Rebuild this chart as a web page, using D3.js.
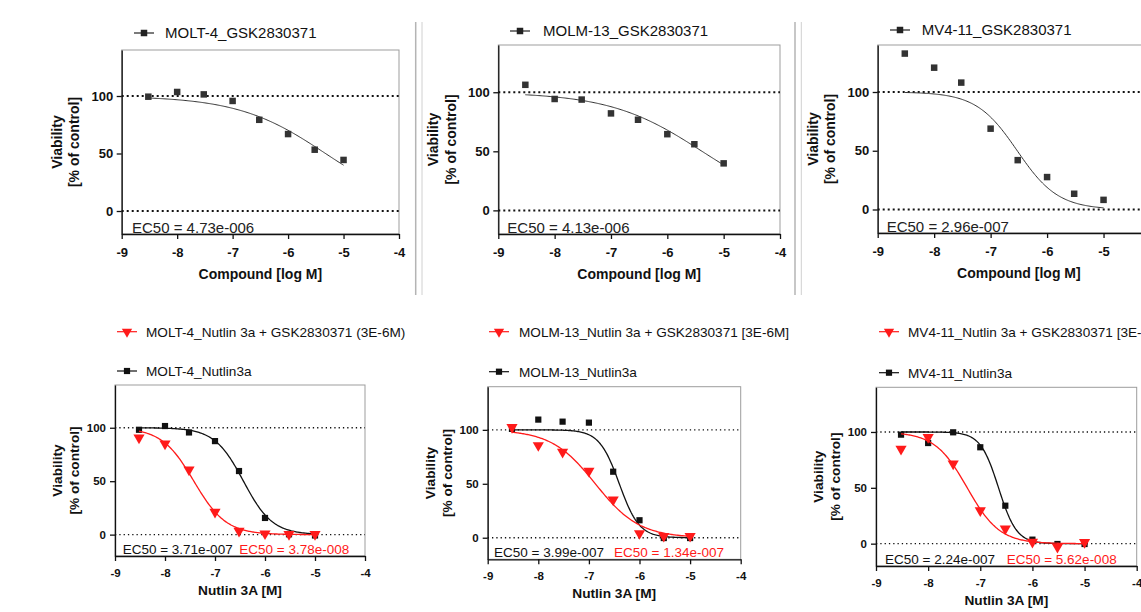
<!DOCTYPE html>
<html lang="en">
<head>
  <meta charset="UTF-8" />
  <title>Viability dose-response panels</title>
  <script src="https://d3js.org/d3.v7.min.js"></script>
  <style>
    body { margin: 0; padding: 0; background: #fff; }
    svg text { font-family: Arial, "Liberation Sans", sans-serif; fill: #111; }
  </style>
</head>
<body>
  <div id="chart"></div>

  <script>
    // ---- data ----
    const logConc = [-8.52, -8, -7.52, -7, -6.52, -6, -5.52, -5];
    const xTicks = [-9, -8, -7, -6, -5, -4];
    const yTicks = [0, 50, 100];
    const refLevels = [0, 100];

    // GSK2830371 alone (top row)
    const molt4Gsk  = [99.4, 103.5, 101.4, 95.7, 79.3, 66.9, 53.3, 44.4];
    const molm13Gsk = [106.3, 94.3, 93.8, 82.1, 76.7, 64.5, 56.0, 39.8];
    const mv411Gsk  = [132.7, 120.7, 108.0, 68.8, 42.0, 27.6, 13.4, 8.2];

    // Nutlin3a alone (black) and Nutlin 3a + GSK2830371 (red), bottom row
    const molt4Nut    = [98.1, 101.6, 95.6, 87.5, 59.5, 15.6, 0.3, -0.8];
    const molt4Combo  = [90.7, 85.0, 60.7, 21.2, 3.4, 0.9, 0.3, 0.3];
    const molm13Nut   = [100.9, 109.5, 107.6, 106.7, 61.2, 16.2, -0.3, -0.3];
    const molm13Combo = [102.4, 85.6, 79.5, 61.8, 35.2, 4.0, 1.5, 1.5];
    const mv411Nut    = [97.6, 90.1, 99.7, 86.3, 34.0, 3.6, -0.3, -0.3];
    const mv411Combo  = [84.8, 95.2, 71.6, 29.6, 13.4, 1.5, -3.0, 1.2];

    // fitted EC50 (label values) and hill slopes of the fitted curves
    const ec50Gsk   = [4.73e-6, 4.13e-6, 2.96e-7];
    const hillGsk   = [0.55, 0.53, 1.2];
    const ec50Nut   = [3.71e-7, 3.99e-7, 2.24e-7];
    const hillNut   = [1.5, 2.2, 2.5];
    const ec50Combo = [3.78e-8, 1.34e-7, 5.62e-8];
    const hillCombo = [1.35, 1.0, 1.4];
    const ec50Text  = ["EC50 = 4.73e-006", "EC50 = 4.13e-006", "EC50 = 2.96e-007",
                       "EC50 = 3.71e-007", "EC50 = 3.99e-007", "EC50 = 2.24e-007"];
    const ec50ComboText = ["EC50 = 3.78e-008", "EC50 = 1.34e-007", "EC50 = 5.62e-008"];

    const gskNames   = ["MOLT-4_GSK2830371", "MOLM-13_GSK2830371", "MV4-11_GSK2830371"];
    const nutNames   = ["MOLT-4_Nutlin3a", "MOLM-13_Nutlin3a", "MV4-11_Nutlin3a"];
    const comboNames = ["MOLT-4_Nutlin 3a + GSK2830371 (3E-6M)",
                        "MOLM-13_Nutlin 3a + GSK2830371 [3E-6M]",
                        "MV4-11_Nutlin 3a + GSK2830371 [3E-6M]"];

    const RED = "#ff1a1a";

    const svg = d3.select("#chart").append("svg")
      .attr("width", 1141).attr("height", 612);

    // row styles
    const topRow = { tick: 13, title: 14, legend: 15, ec50: 15, tickPad: 9, yPad: 3.5,
                     titleGap: 45, vOff1: 65, vOff2: 47.5, dot: "2 3", dotW: 2,
                     sq: 6.5, xTitle: "Compound [log M]" };
    const botRow = { tick: 11.5, title: 13.7, legend: 13.6, ec50: 13.5, tickPad: 8, yPad: 4,
                     titleGap: 39, vOff1: 57.8, vOff2: 41, dot: "1.3 3", dotW: 1.3,
                     sq: 6.2, xTitle: "Nutlin 3A [M]" };

    const panels = [
      { row: topRow, left: 121.7, right: 399, top: 50, bottom: 234, i: 0,
        leg: [{ x: 144, y: 33, tx: 165 }], ecX: [132], ecY: 233 },
      { row: topRow, left: 498.3, right: 780, top: 45, bottom: 234, i: 1,
        leg: [{ x: 520, y: 31, tx: 543 }], ecX: [507.3], ecY: 233 },
      { row: topRow, left: 877.7, right: 1160, top: 45, bottom: 233, i: 2,
        leg: [{ x: 900, y: 30, tx: 921.7 }], ecX: [886.7], ecY: 232 },
      { row: botRow, left: 115, right: 365, top: 385, bottom: 556, i: 0,
        leg: [{ x: 127, y: 331.7, tx: 146 }, { x: 127, y: 371, tx: 146 }], ecX: [122.7, 239.3], ecY: 554 },
      { row: botRow, left: 487.7, right: 740.7, top: 386.7, bottom: 559.3, i: 1,
        leg: [{ x: 499, y: 331.7, tx: 519 }, { x: 499, y: 371.7, tx: 519 }], ecX: [494, 614], ecY: 556.5 },
      { row: botRow, left: 876, right: 1136.7, top: 387.3, bottom: 566, i: 2,
        leg: [{ x: 889, y: 331.7, tx: 908 }, { x: 889, y: 372.7, tx: 908 }], ecX: [885, 1006.7], ecY: 564 }
    ];

    const gskSeries   = [molt4Gsk, molm13Gsk, mv411Gsk];
    const nutSeries   = [molt4Nut, molm13Nut, mv411Nut];
    const comboSeries = [molt4Combo, molm13Combo, mv411Combo];

    const square = d3.symbol().type(d3.symbolSquare);
    const triangle = d3.symbol().type(d3.symbolTriangle);

    function hill(logEc50, h) {
      return xv => 100 / (1 + Math.pow(10, (xv - logEc50) * h));
    }

    function drawSeries(g, x, y, values, fit, color, marker, size, lineW) {
      const fitX = d3.range(logConc[0], logConc[logConc.length - 1] + 0.001, 0.02);
      g.append("path")
        .datum(fitX)
        .attr("fill", "none")
        .attr("stroke", color)
        .attr("stroke-width", lineW)
        .attr("d", d3.line().x(d => x(d)).y(d => y(fit(d))));

      g.selectAll(null)
        .data(values)
        .enter().append("path")
        .attr("transform", (d, k) => `translate(${x(logConc[k])},${y(d)})` + (marker === "tri" ? " rotate(180)" : ""))
        .attr("d", marker === "tri" ? triangle.size(size * size * 0.75)() : square.size(size * size)())
        .attr("fill", color);
    }

    function legendItem(pos, label, color, marker, r) {
      svg.append("line")
        .attr("x1", pos.x - 10).attr("x2", pos.x + 10)
        .attr("y1", pos.y).attr("y2", pos.y)
        .attr("stroke", color).attr("stroke-width", 1.2);
      svg.append("path")
        .attr("transform", `translate(${pos.x},${pos.y})` + (marker === "tri" ? " rotate(180)" : ""))
        .attr("d", marker === "tri" ? triangle.size(r.sq * r.sq * 1.2)() : square.size(r.sq * r.sq)())
        .attr("fill", color);
      svg.append("text")
        .attr("x", pos.tx).attr("y", pos.y)
        .attr("dy", "0.36em")
        .style("font-size", r.legend + "px")
        .text(label);
    }

    panels.forEach((p, n) => {
      const r = p.row;
      const x = d3.scaleLinear().domain([-9, -4]).range([p.left, p.right]);
      const y = d3.scaleLinear().domain([-20, 140]).range([p.bottom, p.top]);
      const g = svg.append("g");

      // light frame
      g.append("rect")
        .attr("x", p.left).attr("y", p.top)
        .attr("width", p.right - p.left).attr("height", p.bottom - p.top)
        .attr("fill", "none").attr("stroke", "#9d9d9d").attr("stroke-width", 1);

      // dotted reference lines at 0 and 100
      g.selectAll(null).data(refLevels).enter().append("line")
        .attr("x1", p.left).attr("x2", p.right)
        .attr("y1", d => y(d)).attr("y2", d => y(d))
        .attr("stroke", "#111")
        .attr("stroke-width", r.dotW)
        .attr("stroke-dasharray", r.dot);

      const xAxis = g.append("g")
        .attr("transform", `translate(0,${p.bottom})`)
        .call(d3.axisBottom(x).tickValues(xTicks).tickSize(5).tickSizeOuter(0)
          .tickPadding(r.tickPad).tickFormat(d => String(d)));
      const yAxis = g.append("g")
        .attr("transform", `translate(${p.left},0)`)
        .call(d3.axisLeft(y).tickValues(yTicks).tickSize(5).tickSizeOuter(0)
          .tickPadding(r.yPad));

      [xAxis, yAxis].forEach(a => {
        a.selectAll("path, line").attr("stroke", "#111").attr("stroke-width", 1.3);
        a.selectAll("text")
          .style("font-size", r.tick + "px")
          .style("font-weight", "bold")
          .style("fill", "#111")
          .style("font-family", 'Arial, "Liberation Sans", sans-serif');
      });

      // axis titles
      g.append("text")
        .attr("x", (p.left + Math.min(p.right, x(-4))) / 2)
        .attr("y", p.bottom + r.titleGap)
        .attr("text-anchor", "middle")
        .style("font-size", r.title + "px").style("font-weight", "bold")
        .text(r.xTitle);

      const cy = (p.top + p.bottom) / 2;
      [["Viability", r.vOff1], ["[% of control]", r.vOff2]].forEach(([t, off]) => {
        g.append("text")
          .attr("transform", `translate(${p.left - off},${cy}) rotate(-90)`)
          .attr("text-anchor", "middle")
          .attr("dy", "0.36em")
          .style("font-size", r.title + "px").style("font-weight", "bold")
          .text(t);
      });

      if (r === topRow) {
        const fit = hill(Math.log10(ec50Gsk[p.i]), hillGsk[p.i]);
        drawSeries(g, x, y, gskSeries[p.i], fit, "#333", "sq", r.sq, 1);
        legendItem(p.leg[0], gskNames[p.i], "#222", "sq", r);
        g.append("text").attr("x", p.ecX[0]).attr("y", p.ecY)
          .style("font-size", r.ec50 + "px").style("fill", "#222")
          .text(ec50Text[n]);
      } else {
        const fitN = hill(Math.log10(ec50Nut[p.i]), hillNut[p.i]);
        const fitC = hill(Math.log10(ec50Combo[p.i]), hillCombo[p.i]);
        drawSeries(g, x, y, nutSeries[p.i], fitN, "#111", "sq", r.sq, 1.3);
        drawSeries(g, x, y, comboSeries[p.i], fitC, RED, "tri", 8.5, 1.3);
        legendItem(p.leg[0], comboNames[p.i], RED, "tri", r);
        legendItem(p.leg[1], nutNames[p.i], "#111", "sq", r);
        g.append("text").attr("x", p.ecX[0]).attr("y", p.ecY)
          .style("font-size", r.ec50 + "px")
          .text(ec50Text[n]);
        g.append("text").attr("x", p.ecX[1]).attr("y", p.ecY)
          .style("font-size", r.ec50 + "px").style("fill", RED)
          .text(ec50ComboText[p.i]);
      }
    });

    // double vertical separators between the top panels
    const separators = [415.7, 795];
    separators.forEach(sx => {
      svg.append("line").attr("x1", sx).attr("x2", sx).attr("y1", 22).attr("y2", 295)
        .attr("stroke", "#b4b4b4").attr("stroke-width", 1.5);
      svg.append("line").attr("x1", sx + 6.3).attr("x2", sx + 6.3).attr("y1", 22).attr("y2", 295)
        .attr("stroke", "#d0d0d0").attr("stroke-width", 1);
    });
  </script>
</body>
</html>
